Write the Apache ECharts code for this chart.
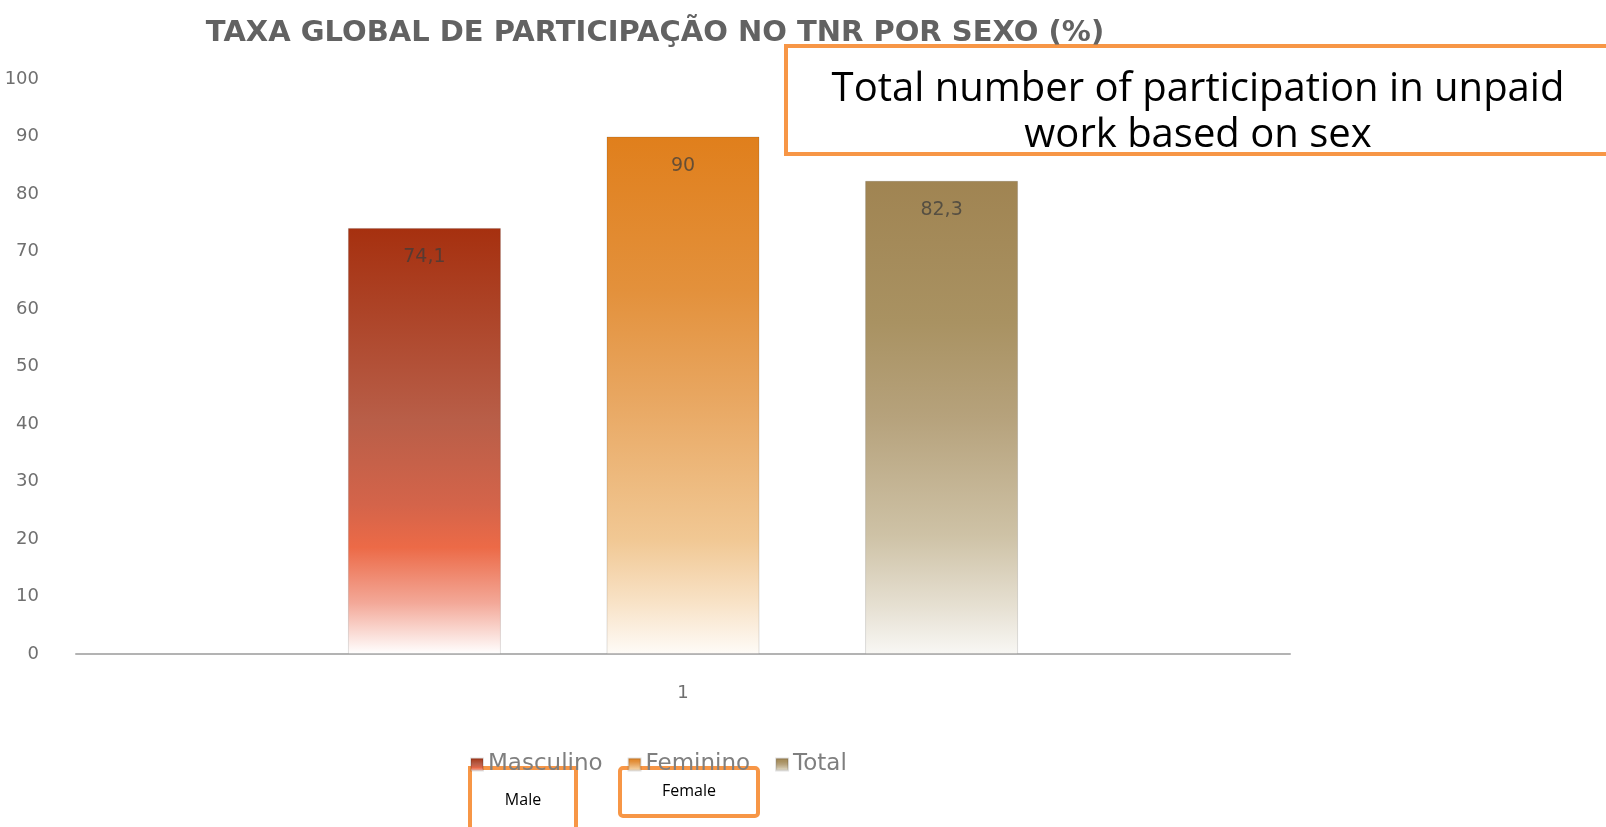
<!DOCTYPE html>
<html>
<head>
<meta charset="utf-8">
<script src="https://cdn.jsdelivr.net/npm/echarts@6/dist/echarts.min.js"></script>
<style>
  html, body { margin: 0; padding: 0; background: #fff; }
  #main { width: 1606px; height: 827px; }
</style>
</head>
<body>
<div id="main"></div>
<script>
var chartDom = document.getElementById('main');
var myChart = echarts.init(chartDom);

// data
const categories = ['1'];
const seriesNames = ['Masculino', 'Feminino', 'Total'];
const masculino = [74.1];
const feminino = [90];
const total = [82.3];
const yTicks = [0, 10, 20, 30, 40, 50, 60, 70, 80, 90, 100];

const labelFont = '"DejaVu Sans", sans-serif';

function grad(stops) {
  return new echarts.graphic.LinearGradient(0, 0, 0, 1, stops.map(function (s) {
    return { offset: s[0], color: s[1] };
  }));
}

const colMasc = grad([[0, '#A6300F'], [0.2, '#AD4428'], [0.45, '#B85E48'], [0.65, '#D4644A'], [0.75, '#EC6A47'], [0.88, '#F3A898'], [1, '#FFFFFF']]);
const colFem = grad([[0, '#E07F1C'], [0.3, '#E3913C'], [0.5, '#E8A660'], [0.78, '#F1C894'], [0.9, '#F8E2C6'], [1, '#FEFBF7']]);
const colTot = grad([[0, '#A08452'], [0.3, '#A99262'], [0.5, '#B6A27C'], [0.75, '#CEC2A6'], [0.9, '#E6E0D2'], [1, '#F8F7F4']]);

function fmt(p) {
  return String(p.value).replace('.', ',');
}

function barSeries(name, data, color) {
  return {
    name: name,
    type: 'bar',
    data: data,
    barWidth: 153,
    barGap: '69%',
    itemStyle: { color: color, borderColor: 'rgba(0,0,0,0.12)', borderWidth: 1 },
    label: {
      show: true,
      position: 'insideTop',
      distance: 20,
      formatter: fmt,
      color: 'rgba(60,60,60,0.75)',
      fontFamily: labelFont,
      fontSize: 19
    }
  };
}

var option = {
  animation: false,
  backgroundColor: '#ffffff',
  title: {
    text: 'TAXA GLOBAL DE PARTICIPAÇÃO NO TNR POR SEXO (%)',
    left: 650,
    textAlign: 'center',
    top: 14,
    textStyle: {
      fontFamily: '"DejaVu Sans", sans-serif',
      fontWeight: 'bold',
      fontSize: 29,
      color: '#626262'
    }
  },
  legend: {
    data: seriesNames,
    left: 465,
    top: 748,
    icon: 'rect',
    itemWidth: 12,
    itemHeight: 12,
    itemGap: 25,
    textStyle: { fontFamily: labelFont, fontSize: 23, color: '#7F7F7F' }
  },
  grid: { left: 76, right: 316, top: 79, bottom: 173 },
  xAxis: {
    type: 'category',
    data: categories,
    axisLine: { lineStyle: { color: '#B3B3B3', width: 2 } },
    axisTick: { show: false },
    axisLabel: { margin: 30, fontFamily: labelFont, fontSize: 18, color: '#6f6f6f' }
  },
  yAxis: {
    type: 'value',
    min: yTicks[0],
    max: yTicks[yTicks.length - 1],
    interval: 10,
    axisLine: { show: false },
    axisTick: { show: false },
    splitLine: { show: false },
    axisLabel: { margin: 37, fontFamily: labelFont, fontSize: 18, color: '#6f6f6f' }
  },
  series: [
    barSeries('Masculino', masculino, colMasc),
    barSeries('Feminino', feminino, colFem),
    barSeries('Total', total, colTot)
  ],
  graphic: [
    {
      type: 'rect',
      shape: { x: 786, y: 46, width: 830, height: 108 },
      style: { fill: '#fff', stroke: '#F79646', lineWidth: 4 }
    },
    {
      type: 'text',
      x: 1198, y: 113,
      style: {
        text: 'Total number of participation in unpaid\nwork based on sex',
        fill: '#000',
        font: '40px "Open Sans", "Noto Sans", sans-serif',
        align: 'center',
        verticalAlign: 'middle',
        lineHeight: 46
      }
    },
    {
      type: 'rect',
      shape: { x: 470, y: 768, width: 106, height: 70 },
      style: { fill: '#fff', stroke: '#F79646', lineWidth: 4 }
    },
    {
      type: 'text',
      x: 523, y: 800,
      style: { text: 'Male', fill: '#000', font: '16px "Open Sans", "Noto Sans", sans-serif', align: 'center', verticalAlign: 'middle' }
    },
    {
      type: 'rect',
      shape: { x: 620, y: 768, width: 138, height: 48, r: 3 },
      style: { fill: '#fff', stroke: '#F79646', lineWidth: 4 }
    },
    {
      type: 'text',
      x: 689, y: 791,
      style: { text: 'Female', fill: '#000', font: '16px "Open Sans", "Noto Sans", sans-serif', align: 'center', verticalAlign: 'middle' }
    }
  ]
};

option && myChart.setOption(option);
</script>
</body>
</html>
